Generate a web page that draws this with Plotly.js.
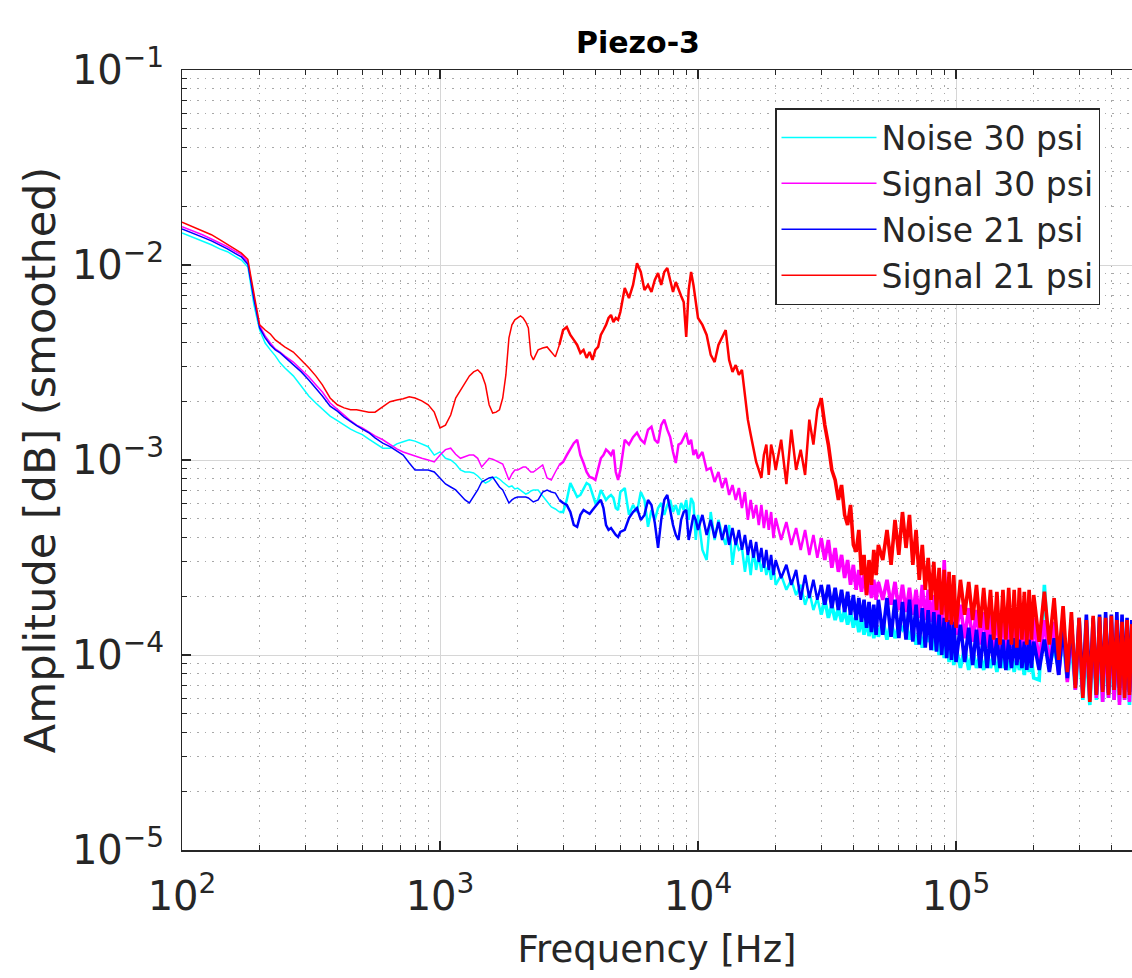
<!DOCTYPE html>
<html>
<head>
<meta charset="utf-8">
<script src="https://cdn.plot.ly/plotly-3.0.1.min.js"></script>
<style>html,body{margin:0;padding:0;background:#fff;}#chart{width:1132px;height:978px;}</style>
</head>
<body>
<div id="chart"></div>
<script>
// ---- Data (frequency in Hz, amplitude) ----
const freqLow = [100,110,120,130,140,150,160,170,180,185,190,200,210,220,230,240,250,270,290,310,330,350,375,400,425,450,475,500,530,560,600,640,680,720,760,800,850,900,950,1000,1050,1100,1150,1200,1250,1300,1350,1400,1450,1500,1550,1600,1650,1700,1750,1800,1850,1900,1950,2000,2050,2100,2150,2200,2250,2300,2400,2500,2600,2700,2800,2900];
const freqHigh = [3000,3100,3200,3300,3400,3500,3600,3700,3800,3900,4000,4100,4200,4300,4400,4500,4600,4700,4800,4900,5000,
5200,5400,5600,5800,6000,6200,6400,6600,6800,7000,7200,7400,7600,7800,8000,8200,8400,8600,8800,9000,9200,9400,9600,9800,10000,
10400,10800,11200,11600,12000,12400,12800,13200,13600,14000,14400,14800,15200,15600,16000,16400,16800,17200,17600,18000,18400,18800,19200,19600,20000,
21000,22000,23000,24000,25000,26000,27000,28000,29000,30000,31000,32000,33000,34000,35000,36000,37000,38000,39000,40000,41000,42000,43000,44000,45000,46000,47000,48000,49000,50000,
52000,54000,56000,58000,60000,62000,64000,66000,68000,70000,72000,74000,76000,78000,80000,82000,84000,86000,88000,90000,92000,94000,96000,98000,100000,
104000,108000,112000,116000,120000,124000,128000,132000,136000,140000,144000,148000,152000,156000,160000,164000,168000,172000,176000,180000,184000,188000,192000,196000,200000,
210000,220000,230000,240000,250000,260000,270000,280000,290000,300000,310000,320000,330000,340000,350000,360000,370000,380000,390000,400000,410000,420000,430000,440000,450000,460000,470000,480000];

const noise30Low = [1.46e-2,1.39e-2,1.33e-2,1.27e-2,1.21e-2,1.17e-2,1.11e-2,1.06e-2,9.77e-3,
7.90e-3,6.24e-3,4.64e-3,3.98e-3,3.67e-3,3.42e-3,3.15e-3,2.97e-3,
2.70e-3,2.40e-3,2.13e-3,1.96e-3,1.83e-3,1.68e-3,1.59e-3,1.51e-3,1.44e-3,1.39e-3,1.35e-3,
1.28e-3,1.22e-3,1.15e-3,1.15e-3,1.21e-3,1.24e-3,1.27e-3,1.25e-3,1.21e-3,1.17e-3,1.06e-3,1.10e-3,
1.02e-3,1.00e-3,9.54e-4,8.89e-4,8.68e-4,8.68e-4,8.58e-4,8.28e-4,7.90e-4,7.62e-4,
7.80e-4,8.09e-4,8.18e-4,7.99e-4,7.71e-4,7.44e-4,7.27e-4,7.36e-4,7.10e-4,7.18e-4,7.02e-4,6.85e-4,6.69e-4,6.77e-4,6.94e-4,7.02e-4,
7.02e-4,6.54e-4,6.09e-4,5.74e-4,5.61e-4,5.41e-4];
const noise30High = [5.41e-4,6.24e-4,7.62e-4,7.02e-4,6.46e-4,6.62e-4,7.18e-4,7.62e-4,7.44e-4,6.62e-4,6.02e-4,6.24e-4,7.02e-4,6.62e-4,6.24e-4,6.46e-4,6.62e-4,6.39e-4,5.67e-4,5.54e-4,6.85e-4,
7.18e-4,5.23e-4,5.88e-4,5.41e-4,6.85e-4,6.24e-4,4.54e-4,5.54e-4,4.93e-4,5.67e-4,6.02e-4,5.23e-4,5.88e-4,6.24e-4,5.41e-4,5.88e-4,5.23e-4,6.02e-4,5.54e-4,6.24e-4,4.93e-4,6.39e-4,6.02e-4,3.89e-4,5.23e-4,
3.46e-4,3.07e-4,5.41e-4,3.89e-4,4.93e-4,4.13e-4,3.67e-4,4.64e-4,2.90e-4,3.89e-4,3.46e-4,3.54e-4,2.67e-4,3.38e-4,2.57e-4,3.46e-4,2.73e-4,3.26e-4,2.67e-4,3.07e-4,2.57e-4,2.90e-4,2.43e-4,2.90e-4,2.29e-4,
2.57e-4,2.16e-4,2.43e-4,2.03e-4,2.29e-4,1.81e-4,2.11e-4,1.70e-4,1.96e-4,1.61e-4,1.92e-4,1.55e-4,1.81e-4,1.51e-4,1.74e-4,1.48e-4,1.70e-4,1.43e-4,1.66e-4,1.38e-4,1.61e-4,1.31e-4,1.55e-4,1.27e-4,1.51e-4,1.25e-4,1.48e-4,1.22e-4,1.43e-4,1.24e-4,
1.51e-4,1.20e-4,1.48e-4,1.22e-4,1.43e-4,1.35e-4,1.48e-4,1.20e-4,1.38e-4,1.13e-4,1.35e-4,1.09e-4,1.31e-4,1.17e-4,1.27e-4,1.06e-4,1.22e-4,1.00e-4,1.20e-4,9.65e-5,1.17e-4,9.21e-5,1.13e-4,8.89e-5,1.09e-4,
8.58e-5,1.09e-4,8.38e-5,1.06e-4,8.58e-5,1.00e-4,8.38e-5,1.04e-4,8.58e-5,1.00e-4,8.18e-5,1.00e-4,8.58e-5,9.65e-5,8.38e-5,1.00e-4,8.18e-5,9.65e-5,8.38e-5,9.43e-5,7.90e-5,1.00e-4,8.18e-5,9.43e-5,7.62e-5,
7.44e-5,2.29e-4,8.89e-5,1.09e-4,8.38e-5,1.20e-4,7.44e-5,1.13e-4,6.62e-5,1.09e-4,5.88e-5,1.06e-4,5.54e-5,1.09e-4,5.88e-5,1.06e-4,5.74e-5,1.09e-4,6.02e-5,1.04e-4,5.88e-5,1.06e-4,5.74e-5,1.09e-4,5.88e-5,1.04e-4,5.54e-5,1.06e-4];

const signal30Low = [1.57e-2,1.50e-2,1.43e-2,1.36e-2,1.30e-2,1.24e-2,1.18e-2,1.13e-2,1.04e-2,
8.28e-3,6.85e-3,4.87e-3,4.33e-3,3.98e-3,3.71e-3,3.58e-3,3.42e-3,
3.18e-3,2.90e-3,2.67e-3,2.43e-3,2.23e-3,1.96e-3,1.81e-3,1.70e-3,1.59e-3,1.51e-3,1.46e-3,
1.39e-3,1.33e-3,1.27e-3,1.20e-3,1.14e-3,1.10e-3,1.07e-3,1.05e-3,1.02e-3,1.00e-3,9.77e-4,1.06e-3,
1.13e-3,1.15e-3,1.07e-3,1.02e-3,1.04e-3,1.06e-3,1.06e-3,1.02e-3,9.21e-4,9.77e-4,
1.02e-3,1.01e-3,9.88e-4,9.65e-4,9.54e-4,8.68e-4,7.90e-4,8.48e-4,8.89e-4,8.89e-4,9.10e-4,9.21e-4,9.21e-4,8.89e-4,8.68e-4,8.68e-4,
9.10e-4,9.43e-4,8.09e-4,7.90e-4,8.68e-4,9.43e-4];
const signal30High = [9.77e-4,1.06e-3,1.13e-3,1.22e-3,1.27e-3,1.06e-3,9.65e-4,8.68e-4,8.18e-4,8.09e-4,7.90e-4,8.89e-4,1.02e-3,1.06e-3,1.13e-3,1.10e-3,1.06e-3,1.13e-3,8.68e-4,7.90e-4,8.89e-4,
1.27e-3,1.20e-3,1.31e-3,1.38e-3,1.27e-3,1.22e-3,1.43e-3,1.48e-3,1.27e-3,1.22e-3,1.51e-3,1.61e-3,1.43e-3,1.31e-3,1.10e-3,9.65e-4,1.20e-3,1.22e-3,1.30e-3,1.38e-3,1.20e-3,1.27e-3,1.06e-3,1.13e-3,1.02e-3,
1.10e-3,8.89e-4,9.10e-4,7.71e-4,8.68e-4,7.18e-4,8.09e-4,6.62e-4,7.44e-4,6.24e-4,7.18e-4,5.67e-4,6.85e-4,4.93e-4,6.24e-4,5.04e-4,5.88e-4,4.64e-4,5.88e-4,4.48e-4,5.54e-4,4.38e-4,5.41e-4,3.98e-4,5.04e-4,
3.89e-4,4.81e-4,3.67e-4,4.48e-4,3.46e-4,4.38e-4,3.26e-4,4.13e-4,3.15e-4,3.98e-4,3.07e-4,3.89e-4,2.80e-4,3.54e-4,2.67e-4,3.26e-4,2.48e-4,3.07e-4,2.29e-4,2.90e-4,2.16e-4,2.73e-4,2.11e-4,2.57e-4,2.03e-4,2.48e-4,1.96e-4,2.43e-4,1.92e-4,2.37e-4,
1.92e-4,2.43e-4,1.81e-4,2.37e-4,1.70e-4,2.29e-4,1.66e-4,2.21e-4,1.61e-4,2.16e-4,1.55e-4,2.29e-4,1.51e-4,2.16e-4,1.48e-4,2.03e-4,1.43e-4,1.96e-4,1.38e-4,3.07e-4,1.35e-4,1.92e-4,1.31e-4,1.81e-4,1.27e-4,
1.81e-4,1.22e-4,1.74e-4,1.17e-4,1.70e-4,1.13e-4,1.66e-4,1.09e-4,1.61e-4,1.06e-4,1.66e-4,1.04e-4,1.61e-4,1.06e-4,1.66e-4,1.00e-4,1.61e-4,1.04e-4,1.70e-4,9.65e-5,1.66e-4,1.00e-4,1.61e-4,9.43e-5,1.55e-4,
9.21e-5,1.51e-4,8.58e-5,1.48e-4,7.90e-5,1.43e-4,7.27e-5,1.38e-4,6.62e-5,1.35e-4,6.24e-5,1.31e-4,5.88e-5,1.35e-4,6.02e-5,1.38e-4,5.74e-5,1.35e-4,6.02e-5,1.38e-4,5.88e-5,1.31e-4,5.54e-5,1.35e-4,5.88e-5,1.38e-4,5.74e-5,1.31e-4];

const noise21Low = [1.53e-2,1.46e-2,1.39e-2,1.33e-2,1.27e-2,1.21e-2,1.15e-2,1.10e-2,1.01e-2,
8.09e-3,6.69e-3,4.76e-3,4.23e-3,3.89e-3,3.67e-3,3.54e-3,3.38e-3,
3.07e-3,2.83e-3,2.57e-3,2.34e-3,2.13e-3,1.89e-3,1.78e-3,1.66e-3,1.57e-3,1.50e-3,1.44e-3,
1.38e-3,1.30e-3,1.22e-3,1.17e-3,1.11e-3,1.06e-3,9.65e-4,8.89e-4,8.89e-4,8.89e-4,8.68e-4,8.09e-4,
7.53e-4,7.27e-4,7.02e-4,6.62e-4,6.24e-4,6.02e-4,6.46e-4,7.02e-4,7.71e-4,7.90e-4,
8.09e-4,8.18e-4,7.71e-4,7.27e-4,7.02e-4,6.46e-4,6.02e-4,6.24e-4,6.39e-4,6.46e-4,6.46e-4,6.46e-4,6.46e-4,6.39e-4,6.24e-4,6.09e-4,
6.24e-4,6.85e-4,7.02e-4,6.85e-4,6.77e-4,6.24e-4];
const noise21High = [6.02e-4,5.88e-4,5.41e-4,4.64e-4,4.54e-4,5.23e-4,5.54e-4,5.41e-4,5.29e-4,5.54e-4,5.81e-4,6.02e-4,6.24e-4,5.67e-4,4.64e-4,4.38e-4,4.48e-4,4.28e-4,4.13e-4,4.03e-4,4.28e-4,
4.38e-4,5.04e-4,5.41e-4,5.67e-4,4.93e-4,5.23e-4,6.24e-4,5.88e-4,4.76e-4,3.54e-4,4.93e-4,6.24e-4,6.62e-4,5.54e-4,4.64e-4,4.13e-4,3.89e-4,4.93e-4,5.41e-4,5.54e-4,3.89e-4,4.48e-4,5.23e-4,4.93e-4,4.38e-4,
5.23e-4,4.13e-4,4.93e-4,3.98e-4,4.81e-4,3.89e-4,4.64e-4,3.67e-4,4.48e-4,3.67e-4,4.38e-4,3.46e-4,4.13e-4,3.26e-4,3.89e-4,3.15e-4,3.80e-4,3.00e-4,3.54e-4,2.80e-4,3.46e-4,2.73e-4,3.26e-4,2.57e-4,3.07e-4,
2.48e-4,2.90e-4,2.29e-4,2.73e-4,1.92e-4,2.57e-4,1.96e-4,2.43e-4,1.92e-4,2.29e-4,1.81e-4,2.29e-4,1.74e-4,2.21e-4,1.70e-4,2.16e-4,1.66e-4,2.11e-4,1.61e-4,2.03e-4,1.51e-4,1.96e-4,1.48e-4,1.92e-4,1.38e-4,1.87e-4,1.31e-4,1.81e-4,1.27e-4,1.92e-4,
1.27e-4,1.96e-4,1.24e-4,1.92e-4,1.22e-4,1.87e-4,1.20e-4,1.92e-4,1.17e-4,1.81e-4,1.13e-4,1.74e-4,1.09e-4,1.70e-4,1.06e-4,1.66e-4,1.04e-4,1.61e-4,1.00e-4,1.55e-4,9.65e-5,1.51e-4,9.43e-5,1.48e-4,9.21e-5,
1.43e-4,9.21e-5,1.38e-4,8.89e-5,1.35e-4,8.58e-5,1.31e-4,8.58e-5,1.27e-4,8.89e-5,1.22e-4,8.58e-5,1.20e-4,8.38e-5,1.20e-4,8.58e-5,1.22e-4,8.89e-5,1.20e-4,8.58e-5,1.17e-4,8.38e-5,1.20e-4,8.58e-5,1.17e-4,
8.38e-5,1.20e-4,8.18e-5,1.22e-4,7.90e-5,1.43e-4,7.62e-5,1.51e-4,7.02e-5,1.55e-4,6.62e-5,1.61e-4,6.46e-5,1.55e-4,6.24e-5,1.61e-4,6.62e-5,1.66e-4,6.39e-5,1.61e-4,6.62e-5,1.66e-4,6.77e-5,1.61e-4,6.62e-5,1.55e-4,6.46e-5,1.51e-4];

const signal21Low = [1.66e-2,1.57e-2,1.50e-2,1.43e-2,1.35e-2,1.28e-2,1.21e-2,1.15e-2,1.07e-2,
8.68e-3,7.18e-3,4.93e-3,4.64e-3,4.43e-3,4.13e-3,3.94e-3,3.80e-3,
3.58e-3,3.26e-3,2.97e-3,2.70e-3,2.43e-3,2.08e-3,1.92e-3,1.85e-3,1.81e-3,1.81e-3,1.78e-3,
1.76e-3,1.76e-3,1.87e-3,1.99e-3,2.03e-3,2.06e-3,2.11e-3,2.08e-3,2.01e-3,1.92e-3,1.76e-3,1.46e-3,
1.51e-3,1.70e-3,2.08e-3,2.29e-3,2.51e-3,2.70e-3,2.83e-3,2.90e-3,2.76e-3,2.43e-3,
1.92e-3,1.74e-3,1.76e-3,1.81e-3,2.08e-3,2.73e-3,4.23e-3,4.93e-3,5.23e-3,5.35e-3,5.48e-3,5.35e-3,5.10e-3,4.76e-3,3.46e-3,3.26e-3,
3.67e-3,3.75e-3,3.80e-3,3.58e-3,3.38e-3,3.89e-3];
const signal21High = [4.64e-3,4.81e-3,4.38e-3,4.13e-3,3.89e-3,3.54e-3,3.67e-3,3.34e-3,3.58e-3,3.26e-3,3.67e-3,3.80e-3,4.38e-3,4.64e-3,4.93e-3,5.35e-3,5.54e-3,5.10e-3,5.35e-3,5.23e-3,5.74e-3,
7.62e-3,6.77e-3,7.90e-3,1.02e-2,9.21e-3,7.44e-3,7.90e-3,7.27e-3,8.38e-3,9.10e-3,7.90e-3,9.21e-3,9.65e-3,8.38e-3,7.27e-3,8.18e-3,7.44e-3,6.94e-3,6.46e-3,4.28e-3,7.44e-3,9.21e-3,7.90e-3,6.24e-3,5.35e-3,
4.93e-3,4.38e-3,3.46e-3,3.18e-3,3.89e-3,4.23e-3,4.64e-3,3.26e-3,2.83e-3,3.07e-3,2.73e-3,2.90e-3,2.16e-3,1.61e-3,1.35e-3,1.13e-3,9.77e-4,8.89e-4,8.09e-4,1.06e-3,1.20e-3,8.38e-4,1.20e-3,1.06e-3,8.89e-4,
1.27e-3,7.53e-4,1.43e-3,8.89e-4,1.13e-3,8.38e-4,1.61e-3,1.20e-3,1.81e-3,2.08e-3,1.51e-3,1.20e-3,8.89e-4,7.90e-4,6.24e-4,7.44e-4,5.23e-4,4.64e-4,5.88e-4,3.67e-4,3.38e-4,4.38e-4,2.57e-4,3.26e-4,2.03e-4,3.07e-4,2.29e-4,3.46e-4,2.57e-4,3.67e-4,
3.07e-4,4.38e-4,2.90e-4,4.93e-4,3.26e-4,5.41e-4,3.54e-4,5.23e-4,2.90e-4,4.38e-4,2.43e-4,3.67e-4,2.16e-4,3.15e-4,1.92e-4,3.00e-4,1.70e-4,2.80e-4,1.61e-4,2.73e-4,1.48e-4,2.67e-4,1.43e-4,2.57e-4,1.38e-4,
2.43e-4,1.61e-4,2.37e-4,1.51e-4,2.29e-4,1.38e-4,2.21e-4,1.35e-4,2.16e-4,1.20e-4,2.11e-4,1.13e-4,2.16e-4,1.20e-4,2.21e-4,1.13e-4,2.16e-4,1.09e-4,2.21e-4,1.20e-4,2.11e-4,1.13e-4,2.16e-4,1.20e-4,2.03e-4,
1.17e-4,2.11e-4,1.13e-4,1.96e-4,9.43e-5,1.78e-4,8.18e-5,1.66e-4,6.77e-5,1.55e-4,6.02e-5,1.51e-4,5.74e-5,1.59e-4,6.24e-5,1.57e-4,6.46e-5,1.55e-4,6.24e-5,1.59e-4,6.62e-5,1.51e-4,6.24e-5,1.48e-4,6.02e-5,1.51e-4,6.24e-5,1.44e-4];

const seriesNames = ['Noise 30 psi','Signal 30 psi','Noise 21 psi','Signal 21 psi'];
const seriesColors = ['#00FFFF','#FF00FF','#0000FF','#FF0000'];

const titleText = 'Piezo-3';
const xTitle = 'Frequency [Hz]';
const yTitle = 'Amplitude [dB] (smoothed)';

// ---- Build traces: smooth low part (thin), jittery mid part, densely packed far part ----
const lowSets = [noise30Low, signal30Low, noise21Low, signal21Low];
const highSets = [noise30High, signal30High, noise21High, signal21High];
const splitAt = freqHigh.indexOf(30000);
const traces = [];
lowSets.forEach((low, i) => {
  const high = highSets[i];
  traces.push({
    type: 'scatter', mode: 'lines', x: freqLow, y: low,
    name: seriesNames[i], legendgroup: 'g' + i,
    line: {color: seriesColors[i], width: 1.5}, hoverinfo: 'skip'
  });
  traces.push({
    type: 'scatter', mode: 'lines',
    x: freqLow.slice(-1).concat(freqHigh.slice(0, splitAt + 1)),
    y: low.slice(-1).concat(high.slice(0, splitAt + 1)),
    name: seriesNames[i], legendgroup: 'g' + i, showlegend: false,
    line: {color: seriesColors[i], width: 2.5}, hoverinfo: 'skip'
  });
  traces.push({
    type: 'scatter', mode: 'lines',
    x: freqHigh.slice(splitAt), y: high.slice(splitAt),
    name: seriesNames[i], legendgroup: 'g' + i, showlegend: false,
    line: {color: seriesColors[i], width: 3.6}, hoverinfo: 'skip'
  });
});

const FONT = 'DejaVu Sans, Arial, sans-serif';
const axisCommon = {
  type: 'log', dtick: 1, exponentformat: 'power',
  ticks: 'inside', ticklen: 9, tickwidth: 1.2, tickcolor: '#262626',
  showline: true, linecolor: '#262626', linewidth: 1.5,
  showgrid: true, gridcolor: '#d6d6d6', gridwidth: 1,
  zeroline: false,
  tickfont: {family: FONT, size: 32, color: '#262626'},
  minor: {dtick: 'D1', ticks: 'inside', ticklen: 5, tickcolor: '#262626', tickwidth: 1,
          showgrid: true, gridcolor: '#a8a8a8', griddash: '1.5px,6px', gridwidth: 1}
};

const layout = {
  width: 1132, height: 978,
  margin: {l: 182, r: 0, t: 70, b: 128, pad: 0},
  paper_bgcolor: '#ffffff', plot_bgcolor: '#ffffff',
  showlegend: true,
  title: {text: titleText, font: {family: FONT, size: 30, color: '#000000', weight: 'bold'},
          x: 0.48, xref: 'paper', xanchor: 'center', y: 1 - 42/978, yref: 'container', yanchor: 'middle'},
  xaxis: Object.assign({}, axisCommon, {
    range: [2, 5.682], mirror: 'ticks', ticklabelstandoff: 12,
    title: {text: xTitle, font: {family: FONT, size: 37, color: '#262626'}, standoff: 18}
  }),
  yaxis: Object.assign({}, axisCommon, {
    range: [-5, -1], mirror: false, ticklabelstandoff: 10,
    title: {text: yTitle, font: {family: FONT, size: 43, color: '#262626'}, standoff: 3}
  }),
  legend: {
    x: (1100 - 182) / 950, xanchor: 'right', y: (850 - 108) / 780, yanchor: 'top',
    bgcolor: '#ffffff', bordercolor: '#262626', borderwidth: 1.5,
    font: {family: FONT, size: 33, color: '#262626'},
    tracegroupgap: 0, itemwidth: 95
  }
};

Plotly.newPlot('chart', traces, layout, {displayModeBar: false, staticPlot: true});
</script>
</body>
</html>
